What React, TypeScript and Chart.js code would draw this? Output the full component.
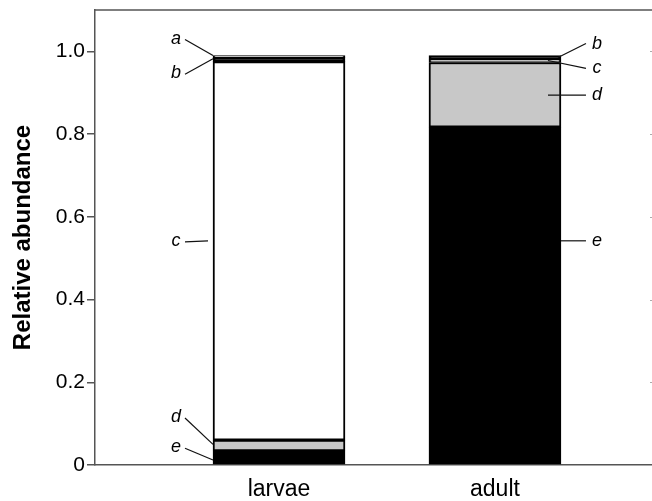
import React, { useEffect, useRef } from "react";
import { Chart, registerables } from "chart.js";

Chart.register(...registerables);

const categories = ["larvae", "adult"];
const seriesNames = ["e", "d", "c", "b", "a"];
const eValues = [0.034, 0.817];
const dValues = [0.026, 0.156];
const cValues = [0.915, 0.008];
const bValues = [0.01, 0.009];
const aValues = [0.005, 0];
const yTicks = [0, 0.2, 0.4, 0.6, 0.8, 1.0];
const yTickLabels = ["0", "0.2", "0.4", "0.6", "0.8", "1.0"];

// segment labels: name, value where the text sits, value where the leader line meets the bar
const larvaeLabelNames = ["a", "b", "c", "d", "e"];
const larvaeLabelTextAt = [1.031, 0.947, 0.542, 0.116, 0.043];
const larvaeLabelPointAt = [0.99, 0.982, 0.542, 0.05, 0.012];
const adultLabelNames = ["b", "c", "d", "e"];
const adultLabelTextAt = [1.019, 0.959, 0.894, 0.542];
const adultLabelPointAt = [0.985, 0.978, 0.894, 0.542];

const seriesValues: Record<string, number[]> = {
  a: aValues,
  b: bValues,
  c: cValues,
  d: dValues,
  e: eValues,
};
const seriesColors: Record<string, string> = {
  a: "#ffffff",
  b: "#000000",
  c: "#ffffff",
  d: "#c8c8c8",
  e: "#000000",
};
const adultInset: Record<string, number> = { b: 3, c: 13, d: 13, e: 0 };
const larvaeInset: Record<string, number> = { a: 0, b: 0, c: 5, d: 0, e: 0 };

const FONT = "'Liberation Sans', Arial, Helvetica, sans-serif";

const labelPlugin = {
  id: "segmentLabels",
  afterDraw(chart: any) {
    const { ctx, chartArea, scales } = chart;
    const y = scales.y;
    ctx.save();
    // top frame line
    ctx.strokeStyle = "#555";
    ctx.lineWidth = 1.5;
    ctx.beginPath();
    ctx.moveTo(chartArea.left, chartArea.top);
    ctx.lineTo(chartArea.right, chartArea.top);
    ctx.stroke();
    // faint right-axis ticks
    ctx.strokeStyle = "#aaa";
    ctx.lineWidth = 1;
    yTicks.slice(1).forEach((v) => {
      const py = Math.round(y.getPixelForValue(v)) + 0.5;
      ctx.beginPath();
      ctx.moveTo(chartArea.right - 5, py);
      ctx.lineTo(chartArea.right, py);
      ctx.stroke();
    });

    const meta = chart.getDatasetMeta(0);
    const b0 = meta.data[0];
    const b1 = meta.data[1];
    const leftEdge = b0.x - b0.width / 2;
    const rightEdge = b1.x + b1.width / 2;

    ctx.font = `italic 18px ${FONT}`;
    ctx.fillStyle = "#000";
    ctx.strokeStyle = "#111";
    ctx.lineWidth = 1.2;
    ctx.textAlign = "center";
    ctx.textBaseline = "middle";

    larvaeLabelNames.forEach((n, i) => {
      const ty = y.getPixelForValue(larvaeLabelTextAt[i]);
      const py = y.getPixelForValue(larvaeLabelPointAt[i]);
      const tx = leftEdge - 37;
      ctx.fillText(n, tx, ty);
      ctx.beginPath();
      ctx.moveTo(leftEdge - 28, ty + 1);
      ctx.lineTo(leftEdge - larvaeInset[n], py);
      ctx.stroke();
    });
    adultLabelNames.forEach((n, i) => {
      const ty = y.getPixelForValue(adultLabelTextAt[i]);
      const py = y.getPixelForValue(adultLabelPointAt[i]);
      const tx = rightEdge + 36;
      ctx.fillText(n, tx, ty);
      ctx.beginPath();
      ctx.moveTo(rightEdge + 25, ty);
      ctx.lineTo(rightEdge - adultInset[n], py);
      ctx.stroke();
    });
    ctx.restore();
  },
};

export default function App() {
  const ref = useRef<HTMLCanvasElement>(null);
  useEffect(() => {
    document.body.style.margin = "0";
    document.body.style.overflow = "hidden";
    const chart = new Chart(ref.current as HTMLCanvasElement, {
      type: "bar",
      data: {
        datasets: seriesNames.map((n) => ({
          label: n,
          data: categories.map((_, j) => ({ x: j, y: seriesValues[n][j] })),
          backgroundColor: seriesColors[n],
          borderColor: "#000",
          borderWidth: 2,
          borderSkipped: false,
          barThickness: 132,
          stack: "s",
        })),
      } as any,
      options: {
        animation: false,
        responsive: true,
        maintainAspectRatio: false,
        layout: { padding: { left: 0, top: 10, right: 25, bottom: 0 } },
        plugins: { legend: { display: false }, tooltip: { enabled: false } },
        scales: {
          x: {
            type: "linear",
            min: -0.852,
            max: 1.741,
            offset: false,
            stacked: true,
            afterBuildTicks: (s: any) => {
              s.ticks = categories.map((_, i) => ({ value: i }));
            },
            ticks: {
              callback: (v: any) => categories[Math.round(Number(v))] ?? "",
              font: { family: FONT, size: 23 },
              color: "#000",
              padding: 11,
              maxRotation: 0,
            },
            grid: { display: false, drawTicks: false },
            border: { display: true, color: "#555", width: 1.5 },
            afterFit: (s: any) => {
              s.height = 36;
              s.paddingLeft = 0;
              s.paddingRight = 0;
            },
          },
          y: {
            min: 0,
            max: 1.1,
            stacked: true,
            afterBuildTicks: (s: any) => {
              s.ticks = yTicks.map((v) => ({ value: v }));
            },
            ticks: {
              callback: (v: any) => {
                const i = yTicks.findIndex((t) => Math.abs(t - Number(v)) < 1e-6);
                return i >= 0 ? yTickLabels[i] : "";
              },
              font: { family: FONT, size: 21 },
              color: "#000",
              padding: 2,
            },
            grid: {
              drawOnChartArea: false,
              tickLength: 8,
              color: "#555",
              lineWidth: 1.5,
            },
            border: { color: "#555", width: 1.5 },
            title: {
              display: true,
              text: "Relative abundance",
              font: { family: FONT, size: 24, weight: "bold" },
              color: "#000",
              padding: { top: 9, bottom: 0 },
            },
            afterFit: (s: any) => {
              s.width = 95;
              s.paddingTop = 0;
              s.paddingBottom = 0;
            },
          },
        },
      } as any,
      plugins: [labelPlugin],
    });
    return () => chart.destroy();
  }, []);
  return (
    <div style={{ width: 680, height: 501, position: "relative" }}>
      <canvas ref={ref} />
    </div>
  );
}
